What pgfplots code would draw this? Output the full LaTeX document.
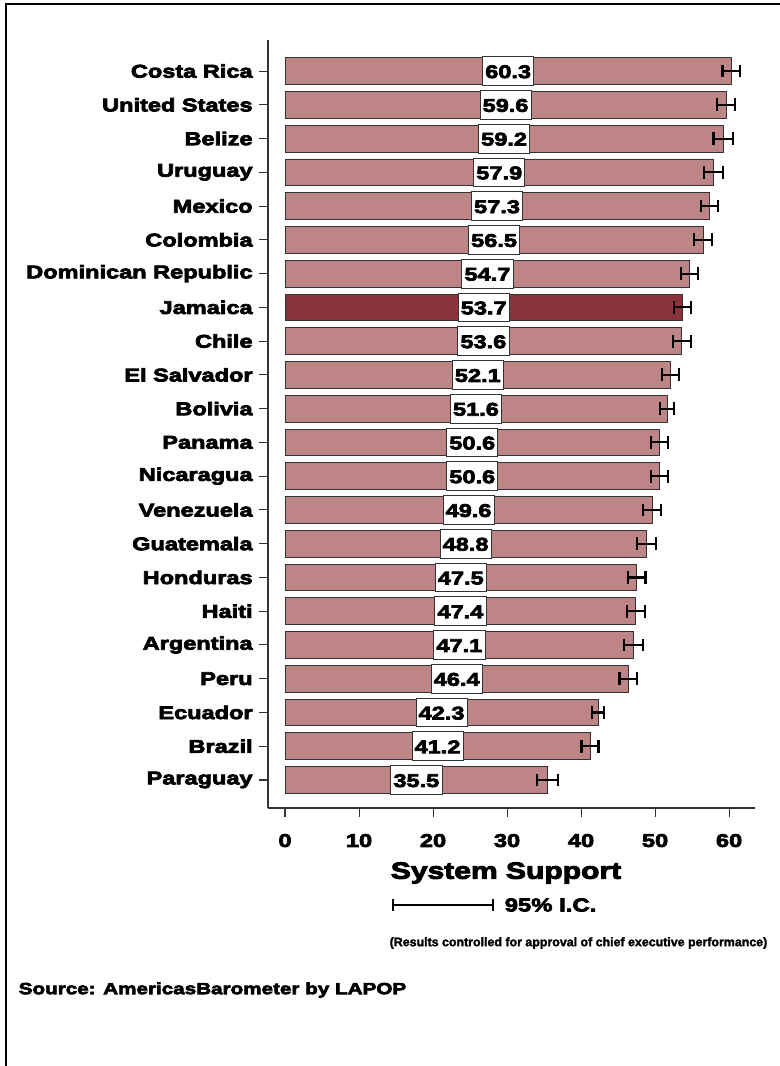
\documentclass[border=0pt]{standalone}
\usepackage{pgfplots}
\pgfplotsset{compat=1.18}
\usepackage{pgfplotstable}
\usepackage{fontspec}
\setmainfont{Liberation Sans Bold}[FakeStretch=1.28,FakeBold=4]
\newfontfamily\bk{Liberation Sans Bold}[FakeStretch=1.28,FakeBold=4]
\newfontfamily\bn{Liberation Sans Bold}[FakeBold=2]
\definecolor{barrose}{HTML}{BD8585}
\definecolor{bardark}{HTML}{8C343B}
\definecolor{axgray}{HTML}{333333}
\pgfplotsset{/pgf/number format/assume math mode=true,
  ebar/.style={error bars/x dir=both, error bars/x explicit,
    error bars/error bar style={line width=1.6pt, draw=black}},
  ecap/.style={only marks, mark=|, mark size=4.8pt, mark options={draw=black, line width=1.6pt}}}
\pgfplotstableread{
y val err
21 60.3 1.2
20 59.6 1.2
19 59.2 1.3
18 57.9 1.25
17 57.3 1.15
16 56.5 1.2
15 54.7 1.15
14 53.7 1.2
13 53.6 1.2
12 52.1 1.15
11 51.6 0.9
10 50.6 1.15
9 50.6 1.2
8 49.6 1.25
7 48.8 1.3
6 47.5 1.2
5 47.4 1.2
4 47.1 1.25
3 46.4 1.2
2 42.3 0.8
1 41.2 1.15
0 35.5 1.4
}\data
\pgfplotstableread{
y val err
21 60.3 1.2
20 59.6 1.2
19 59.2 1.3
18 57.9 1.25
17 57.3 1.15
16 56.5 1.2
15 54.7 1.15
13 53.6 1.2
12 52.1 1.15
11 51.6 0.9
10 50.6 1.15
9 50.6 1.2
8 49.6 1.25
7 48.8 1.3
6 47.5 1.2
5 47.4 1.2
4 47.1 1.25
3 46.4 1.2
2 42.3 0.8
1 41.2 1.15
0 35.5 1.4
}\others
\pgfplotstableread{
y val err
14 53.7 1.2
}\jam
\begin{document}
\begin{tikzpicture}
\path[use as bounding box] (0,0) rectangle (585pt,-799.5pt);
\begin{axis}[
  at={(201pt,-606pt)}, anchor=south west,
  scale only axis, width=365.25pt, height=576pt,
  xmin=-2.3, xmax=63.5, ymin=-0.83, ymax=21.92,
  axis lines*=left,
  axis line style={axgray, line width=1pt},
  tick style={axgray, line width=0.8pt},
  tick align=outside, major tick length=7pt,
  xtick={0,10,...,60},
  ytick={0,...,21},
  yticklabels={Paraguay,Brazil,Ecuador,Peru,Argentina,Haiti,Honduras,Guatemala,Venezuela,Nicaragua,Panama,Bolivia,El Salvador,Chile,Jamaica,Dominican Republic,Colombia,Mexico,Uruguay,Belize,United States,Costa Rica},
  yticklabel style={font=\bk\fontsize{13.8pt}{15pt}\selectfont, xshift=-1pt},
  xticklabel style={font=\bk\fontsize{13.8pt}{15pt}\selectfont, yshift=-9pt},
  clip=false,
]
\addplot[xbar, bar shift=0pt, bar width=0.79, fill=barrose, draw=axgray, line width=0.6pt, ebar]
  table[x=val, y=y, x error=err] {\others};
\addplot[xbar, bar shift=0pt, bar width=0.79, fill=bardark, draw=axgray, line width=0.6pt, ebar]
  table[x=val, y=y, x error=err] {\jam};
\addplot[ecap] table[x expr=\thisrow{val}-\thisrow{err}, y=y] {\data};
\addplot[ecap] table[x expr=\thisrow{val}+\thisrow{err}, y=y] {\data};
\addplot[draw=none, mark=none,
  nodes near coords={\pgfmathprintnumber[fixed,fixed zerofill,precision=1]{\pgfplotspointmeta}},
  point meta=explicit,
  nodes near coords style={anchor=center, draw=axgray, fill=white, line width=0.6pt,
    font=\bk\fontsize{13.8pt}{15pt}\selectfont, inner xsep=2pt, inner ysep=0pt,
    text height=10.5pt, text depth=0pt, minimum height=21.5pt}]
  table[x expr=\thisrow{val}/2, y=y, meta=val] {\data};
\end{axis}
\begin{scope}[x=0.75pt, y=-0.75pt]
\draw[black, line width=2.2pt] (6,1066) -- (6,4) -- (780,4);
\node[font=\bk\fontsize{17.6pt}{19pt}\selectfont] at (506,873) {System Support};
\draw[black, line width=0.8pt] (393,905) -- (493,905);
\draw[black, line width=0.8pt] (393,899) -- (393,911);
\draw[black, line width=0.8pt] (493,899) -- (493,911);
\node[anchor=west, font=\bk\fontsize{14pt}{16pt}\selectfont] at (500,905) {95\% I.C.};
\node[anchor=east, font=\bn\fontsize{9.3pt}{11pt}\selectfont] at (772,943) {(Results controlled for approval of chief executive performance)};
\node[anchor=west, font=\bk\fontsize{12.1pt}{15pt}\selectfont] at (14,990) {Source: AmericasBarometer by LAPOP};
\end{scope}
\end{tikzpicture}
\end{document}
